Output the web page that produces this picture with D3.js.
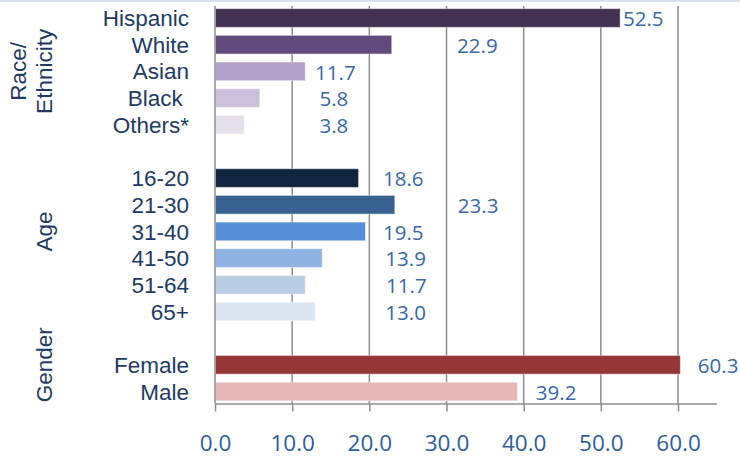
<!DOCTYPE html>
<html>
<head>
<meta charset="utf-8">
<script src="https://cdn.jsdelivr.net/npm/d3@7"></script>
<style>
  html, body { margin: 0; padding: 0; background: #ffffff; }
  svg { display: block; }
</style>
</head>
<body>
<div id="chart"></div>
<script>
// ---------- data ----------
const groupTitles = [["Race/", "Ethnicity"], ["Age"], ["Gender"]];
const groupSizes = [5, 6, 2];
const categories = ["Hispanic", "White", "Asian", "Black ", "Others*",
                    "16-20", "21-30", "31-40", "41-50", "51-64", "65+",
                    "Female", "Male"];
const values = [52.5, 22.9, 11.7, 5.8, 3.8,
                18.6, 23.3, 19.5, 13.9, 11.7, 13.0,
                60.3, 39.2];
// where each value label sits along the value axis (data units, label centre)
const labelAt = [55.5, 34.0, 15.6, 15.4, 15.4,
                 24.4, 34.1, 24.4, 24.7, 24.8, 24.7,
                 65.2, 44.2];
const barColors = ["#433152", "#624a7d", "#b3a2c7", "#ccc1da", "#e5e0ec",
                   "#12253f", "#37618f", "#558ed5", "#8eb4e3", "#b9cde5", "#dce6f2",
                   "#953735", "#e6b9b8"];
const xTicks = [0, 10, 20, 30, 40, 50, 60];
const xMax = 65;

// ---------- layout ----------
const W = 740, H = 458;
const svg = d3.select("#chart").append("svg").attr("width", W).attr("height", H);

// build row keys with spacer rows between groups
const rows = [];
const groupRows = [];
let ci = 0;
groupSizes.forEach((n, g) => {
  const gr = [];
  if (g > 0) { const k = "gap" + g; rows.push(k); gr.push(k); }
  for (let i = 0; i < n; i++) { rows.push("c" + ci); gr.push("c" + ci); ci++; }
  groupRows.push(gr);
});

const x = d3.scaleLinear().domain([0, xMax]).range([215, 716.6]);
const y = d3.scaleBand().domain(rows).range([6, 403.5]).paddingInner(0.3).paddingOuter(0.1);
const axisY = 403.5;
const gridColor = "#8c8c8c";

// top border
svg.append("rect").attr("x", 0).attr("y", 0).attr("width", W).attr("height", 2).attr("fill", "#dae0ee");

// gridlines
svg.append("g").selectAll("line").data(xTicks.filter(d => d > 0)).join("line")
  .attr("x1", d => x(d)).attr("x2", d => x(d))
  .attr("y1", 6).attr("y2", axisY)
  .attr("stroke", gridColor).attr("stroke-width", 1.5);

// bars
svg.append("g").selectAll("rect").data(values).join("rect")
  .attr("x", x(0) + 0.5)
  .attr("y", (d, i) => y("c" + i))
  .attr("width", d => x(d) - x(0) - 0.5)
  .attr("height", y.bandwidth())
  .attr("fill", (d, i) => barColors[i])
  .attr("stroke", "#ffffff").attr("stroke-opacity", 0.45).attr("stroke-width", 1);

// x axis
const xAxis = d3.axisBottom(x).tickValues(xTicks).tickSize(8).tickSizeOuter(0)
  .tickPadding(24).tickFormat(d3.format(".1f"));
const ax = svg.append("g").attr("transform", `translate(0,${axisY})`).call(xAxis);
ax.select(".domain").attr("stroke", gridColor).attr("stroke-width", 1.5);
ax.selectAll(".tick line").attr("stroke", gridColor).attr("stroke-width", 1.5);
ax.selectAll(".tick text")
  .attr("fill", "#2f5d95")
  .style("font-family", "'Open Sans', 'Noto Sans', sans-serif")
  .style("font-size", "22.5px");

// y axis line
svg.append("line").attr("x1", x(0)).attr("x2", x(0)).attr("y1", 6).attr("y2", axisY)
  .attr("stroke", gridColor).attr("stroke-width", 1.5);

// category labels
svg.append("g").selectAll("text").data(categories).join("text")
  .attr("x", 189)
  .attr("y", (d, i) => y("c" + i) + y.bandwidth() / 2)
  .attr("dy", "0.36em")
  .attr("text-anchor", "end")
  .attr("fill", "#1f3a60")
  .style("font-family", "'Liberation Sans', Arial, sans-serif")
  .style("font-size", "22.5px")
  .style("white-space", "pre")
  .text(d => d);

// value labels
svg.append("g").selectAll("text").data(values).join("text")
  .attr("x", (d, i) => x(labelAt[i]))
  .attr("y", (d, i) => y("c" + i) + y.bandwidth() / 2 + 1)
  .attr("dy", "0.36em")
  .attr("text-anchor", "middle")
  .attr("fill", "#3b68a1")
  .style("font-family", "'Open Sans', 'Noto Sans', sans-serif")
  .style("font-size", "20.5px")
  .text(d => d.toFixed(1));

// group titles (rotated)
groupTitles.forEach((lines, g) => {
  const gr = groupRows[g];
  const top = y(gr[0]), bot = y(gr[gr.length - 1]) + y.bandwidth();
  const yc = (top + bot) / 2;
  const n = lines.length;
  lines.forEach((t, li) => {
    const bx = 52 - (n - 1 - li) * 26;
    svg.append("text")
      .attr("transform", `translate(${bx},${yc}) rotate(-90)`)
      .attr("text-anchor", "middle")
      .attr("fill", "#1f3a60")
      .style("font-family", "'Liberation Sans', Arial, sans-serif")
      .style("font-size", "22.5px")
      .text(t);
  });
});
</script>
</body>
</html>
